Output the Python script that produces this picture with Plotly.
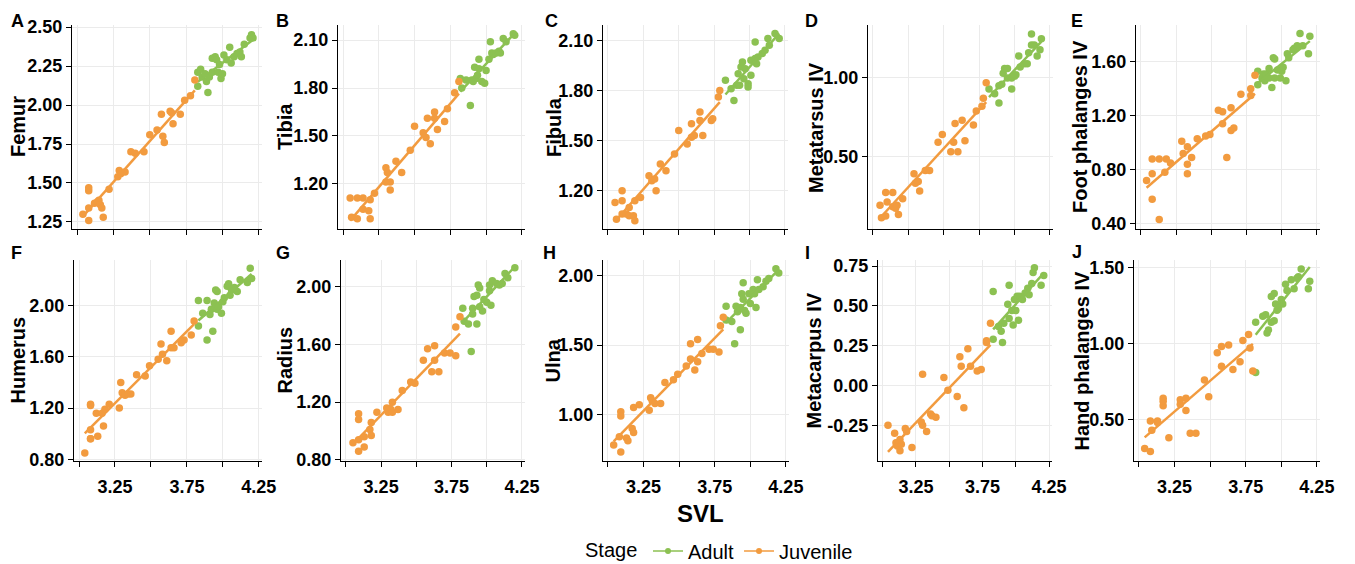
import numpy as np
import plotly.graph_objects as go

W, H = 1355, 564

panel_letters = ["A", "B", "C", "D", "E", "F", "G", "H", "I", "J"]
panel_titles = ["Femur", "Tibia", "Fibula", "Metatarsus IV", "Foot phalanges IV",
                "Humerus", "Radius", "Ulna", "Metacarpus IV", "Hand phalanges IV"]
stages = ["Adult", "Juvenile"]
svl_tickvals = [3.0, 3.25, 3.5, 3.75, 4.0, 4.25]
svl_ticktext = ["", "3.25", "", "3.75", "", "4.25"]

yticks_A = [1.25, 1.50, 1.75, 2.00, 2.25, 2.50]
yticks_B = [1.20, 1.50, 1.80, 2.10]
yticks_C = [1.20, 1.50, 1.80, 2.10]
yticks_D = [0.50, 1.00]
yticks_E = [0.40, 0.80, 1.20, 1.60]
yticks_F = [0.80, 1.20, 1.60, 2.00]
yticks_G = [0.80, 1.20, 1.60, 2.00]
yticks_H = [1.00, 1.50, 2.00]
yticks_I = [-0.25, 0.00, 0.25, 0.50, 0.75]
yticks_J = [0.50, 1.00, 1.50]

A_juv_x = [3.04, 3.08, 3.08, 3.08, 3.08, 3.12, 3.14, 3.15, 3.16, 3.17, 3.18, 3.22, 3.28, 3.29, 3.30, 3.33, 3.37, 3.40, 3.46, 3.50, 3.55, 3.59, 3.60, 3.58, 3.64, 3.65, 3.66, 3.71, 3.74, 3.78, 3.81]
A_juv_y = [1.30, 1.26, 1.34, 1.45, 1.47, 1.37, 1.38, 1.39, 1.36, 1.34, 1.28, 1.46, 1.54, 1.58, 1.56, 1.57, 1.70, 1.69, 1.70, 1.81, 1.84, 1.80, 1.76, 1.94, 1.96, 1.95, 1.88, 1.94, 2.03, 2.06, 2.16]
A_adu_x = [3.83, 3.83, 3.85, 3.86, 3.88, 3.89, 3.90, 3.91, 3.93, 3.93, 3.95, 3.96, 3.97, 3.98, 3.99, 4.00, 4.01, 4.03, 4.05, 4.06, 4.08, 4.10, 4.12, 4.13, 4.15, 4.19, 4.20, 4.21]
A_adu_y = [2.21, 2.12, 2.23, 2.18, 2.20, 2.15, 2.08, 2.18, 2.30, 2.21, 2.31, 2.29, 2.21, 2.26, 2.17, 2.20, 2.32, 2.29, 2.37, 2.27, 2.31, 2.33, 2.34, 2.31, 2.39, 2.43, 2.45, 2.43]

B_juv_x = [3.05, 3.10, 3.14, 3.19, 3.22, 3.06, 3.10, 3.14, 3.18, 3.19, 3.30, 3.31, 3.33, 3.33, 3.30, 3.37, 3.41, 3.47, 3.50, 3.56, 3.58, 3.61, 3.59, 3.64, 3.64, 3.66, 3.71, 3.73, 3.78, 3.81]
B_juv_y = [1.11, 1.11, 1.11, 1.10, 1.14, 0.99, 0.98, 1.04, 1.03, 0.98, 1.30, 1.27, 1.21, 1.16, 1.21, 1.34, 1.27, 1.41, 1.56, 1.52, 1.49, 1.45, 1.61, 1.65, 1.61, 1.54, 1.59, 1.67, 1.77, 1.84]
B_adu_x = [3.82, 3.83, 3.86, 3.89, 3.90, 3.91, 3.92, 3.93, 3.94, 3.95, 3.95, 3.97, 3.99, 4.00, 4.02, 4.03, 4.04, 4.05, 4.07, 4.09, 4.10, 4.12, 4.14, 4.19, 4.20]
B_adu_y = [1.86, 1.80, 1.85, 1.69, 1.85, 1.84, 1.93, 1.86, 1.88, 1.92, 1.98, 1.84, 1.83, 1.91, 1.98, 2.09, 2.02, 2.01, 2.02, 2.03, 2.02, 2.11, 2.09, 2.14, 2.13]

C_juv_x = [3.05, 3.10, 3.10, 3.06, 3.10, 3.13, 3.15, 3.18, 3.19, 3.15, 3.19, 3.23, 3.29, 3.31, 3.33, 3.34, 3.37, 3.41, 3.47, 3.50, 3.56, 3.59, 3.61, 3.59, 3.65, 3.67, 3.65, 3.73, 3.74, 3.78, 3.79]
C_juv_y = [1.13, 1.14, 1.20, 1.03, 1.06, 1.06, 1.05, 1.05, 1.02, 1.10, 1.14, 1.16, 1.29, 1.26, 1.27, 1.20, 1.36, 1.32, 1.42, 1.56, 1.48, 1.52, 1.53, 1.60, 1.67, 1.53, 1.62, 1.62, 1.63, 1.76, 1.80]
C_adu_x = [3.83, 3.87, 3.89, 3.91, 3.92, 3.93, 3.94, 3.95, 3.96, 3.97, 3.99, 3.99, 4.01, 4.01, 4.04, 4.04, 4.05, 4.06, 4.09, 4.11, 4.13, 4.14, 4.18, 4.21]
C_adu_y = [1.86, 1.81, 1.74, 1.83, 1.90, 1.83, 1.94, 1.97, 1.87, 1.93, 1.84, 1.82, 1.89, 1.98, 1.99, 2.09, 1.96, 2.00, 2.02, 2.04, 2.11, 2.07, 2.14, 2.11]

D_juv_x = [3.05, 3.09, 3.14, 3.10, 3.06, 3.09, 3.14, 3.16, 3.18, 3.17, 3.21, 3.29, 3.30, 3.32, 3.33, 3.37, 3.40, 3.46, 3.49, 3.55, 3.57, 3.58, 3.60, 3.63, 3.65, 3.71, 3.73, 3.77, 3.78, 3.80]
D_juv_y = [0.19, 0.27, 0.27, 0.21, 0.11, 0.12, 0.18, 0.17, 0.13, 0.19, 0.23, 0.39, 0.33, 0.34, 0.28, 0.41, 0.41, 0.59, 0.64, 0.53, 0.59, 0.71, 0.53, 0.73, 0.60, 0.70, 0.79, 0.82, 0.87, 0.97]
D_adu_x = [3.82, 3.86, 3.89, 3.89, 3.91, 3.92, 3.93, 3.95, 3.95, 3.98, 3.98, 4.00, 4.01, 4.03, 4.04, 4.07, 4.09, 4.10, 4.12, 4.12, 4.14, 4.16, 4.18, 4.19]
D_adu_y = [0.93, 0.90, 0.84, 0.95, 0.96, 1.03, 1.06, 1.06, 1.00, 0.93, 1.00, 1.01, 1.02, 1.14, 1.07, 1.09, 1.09, 1.16, 1.21, 1.28, 1.21, 1.14, 1.18, 1.25]

E_juv_x = [3.04, 3.08, 3.08, 3.08, 3.13, 3.13, 3.18, 3.17, 3.21, 3.29, 3.30, 3.33, 3.33, 3.33, 3.36, 3.40, 3.46, 3.49, 3.55, 3.58, 3.58, 3.61, 3.64, 3.64, 3.66, 3.71, 3.78, 3.78, 3.81]
E_juv_y = [0.72, 0.88, 0.77, 0.58, 0.88, 0.43, 0.88, 0.78, 0.85, 1.01, 0.92, 0.97, 0.84, 0.77, 0.89, 1.03, 1.05, 1.06, 1.24, 1.23, 1.14, 0.89, 1.09, 1.26, 1.11, 1.36, 1.40, 1.35, 1.50]
E_adu_x = [3.83, 3.83, 3.86, 3.87, 3.88, 3.89, 3.91, 3.91, 3.93, 3.94, 3.95, 3.95, 3.97, 3.99, 4.00, 4.01, 4.03, 4.04, 4.05, 4.08, 4.09, 4.11, 4.13, 4.15, 4.19, 4.20]
E_adu_y = [1.43, 1.53, 1.48, 1.51, 1.46, 1.51, 1.55, 1.48, 1.41, 1.63, 1.62, 1.48, 1.54, 1.48, 1.53, 1.56, 1.46, 1.66, 1.63, 1.69, 1.70, 1.72, 1.81, 1.72, 1.66, 1.79]

F_juv_x = [3.04, 3.08, 3.08, 3.08, 3.08, 3.08, 3.12, 3.13, 3.16, 3.17, 3.18, 3.21, 3.28, 3.29, 3.30, 3.32, 3.34, 3.36, 3.40, 3.46, 3.49, 3.55, 3.58, 3.61, 3.57, 3.64, 3.64, 3.66, 3.71, 3.73, 3.78, 3.80]
F_juv_y = [0.85, 0.96, 0.96, 1.23, 1.22, 1.03, 1.16, 0.98, 1.16, 1.06, 1.19, 1.23, 1.20, 1.40, 1.32, 1.30, 1.31, 1.31, 1.46, 1.45, 1.53, 1.58, 1.62, 1.57, 1.70, 1.80, 1.67, 1.67, 1.71, 1.73, 1.77, 1.88]
F_adu_x = [3.83, 3.83, 3.86, 3.89, 3.89, 3.91, 3.92, 3.93, 3.94, 3.95, 3.96, 3.96, 3.97, 3.99, 4.00, 4.01, 4.03, 4.04, 4.05, 4.06, 4.08, 4.10, 4.12, 4.17, 4.19, 4.20]
F_adu_y = [2.04, 1.84, 1.94, 1.73, 2.04, 1.93, 1.97, 1.80, 2.02, 2.12, 1.97, 2.11, 1.99, 1.94, 2.03, 2.06, 2.15, 2.17, 2.08, 2.12, 2.14, 2.11, 2.20, 2.18, 2.29, 2.21]

G_juv_x = [3.05, 3.09, 3.09, 3.09, 3.09, 3.13, 3.13, 3.17, 3.18, 3.18, 3.22, 3.29, 3.30, 3.32, 3.33, 3.33, 3.37, 3.40, 3.46, 3.49, 3.55, 3.58, 3.61, 3.63, 3.63, 3.66, 3.70, 3.74, 3.78, 3.78, 3.81]
G_juv_y = [0.92, 0.86, 1.12, 1.08, 0.94, 0.89, 0.96, 1.01, 1.06, 0.97, 1.13, 1.16, 1.13, 1.15, 1.13, 1.20, 1.15, 1.28, 1.34, 1.33, 1.49, 1.57, 1.41, 1.59, 1.49, 1.41, 1.54, 1.54, 1.52, 1.72, 1.79]
G_adu_x = [3.83, 3.84, 3.87, 3.89, 3.90, 3.90, 3.91, 3.93, 3.93, 3.94, 3.95, 3.95, 3.97, 3.98, 4.00, 4.02, 4.02, 4.03, 4.04, 4.07, 4.09, 4.11, 4.13, 4.15, 4.20]
G_adu_y = [1.85, 1.76, 1.74, 1.55, 1.85, 1.81, 1.93, 1.74, 1.94, 2.01, 1.99, 1.86, 1.83, 1.91, 1.89, 1.97, 2.01, 1.87, 2.04, 2.02, 2.01, 2.02, 2.09, 2.06, 2.13]

H_juv_x = [3.04, 3.09, 3.09, 3.09, 3.08, 3.13, 3.14, 3.17, 3.18, 3.18, 3.22, 3.29, 3.30, 3.31, 3.33, 3.37, 3.40, 3.46, 3.49, 3.55, 3.58, 3.58, 3.61, 3.63, 3.63, 3.66, 3.71, 3.74, 3.78, 3.79, 3.81]
H_juv_y = [0.78, 0.73, 1.02, 0.99, 0.84, 0.83, 0.81, 0.90, 0.87, 1.05, 1.07, 1.03, 1.12, 1.10, 1.08, 1.08, 1.23, 1.25, 1.29, 1.35, 1.51, 1.40, 1.32, 1.54, 1.38, 1.44, 1.47, 1.47, 1.45, 1.64, 1.70]
H_adu_x = [3.83, 3.83, 3.87, 3.89, 3.90, 3.91, 3.93, 3.93, 3.94, 3.95, 3.95, 3.96, 3.97, 3.99, 4.00, 4.02, 4.03, 4.04, 4.05, 4.06, 4.09, 4.11, 4.13, 4.18, 4.20]
H_adu_y = [1.68, 1.78, 1.67, 1.51, 1.78, 1.74, 1.61, 1.77, 1.87, 1.83, 1.95, 1.75, 1.73, 1.87, 1.80, 1.90, 1.87, 1.77, 1.97, 1.90, 1.92, 1.96, 1.98, 2.05, 2.02]

I_juv_x = [3.04, 3.09, 3.10, 3.11, 3.13, 3.14, 3.13, 3.17, 3.18, 3.22, 3.30, 3.29, 3.30, 3.33, 3.36, 3.37, 3.40, 3.46, 3.49, 3.56, 3.58, 3.59, 3.61, 3.64, 3.66, 3.71, 3.74, 3.78, 3.78, 3.81]
I_juv_y = [-0.25, -0.30, -0.36, -0.38, -0.41, -0.37, -0.34, -0.27, -0.29, -0.39, 0.07, -0.23, -0.25, -0.29, -0.18, -0.19, -0.20, 0.05, -0.03, -0.07, 0.18, 0.12, -0.14, 0.23, 0.12, 0.09, 0.10, 0.28, 0.27, 0.39]
I_adu_x = [3.83, 3.83, 3.87, 3.89, 3.90, 3.91, 3.94, 3.95, 3.95, 3.97, 3.98, 3.99, 4.00, 4.01, 4.02, 4.03, 4.04, 4.05, 4.07, 4.09, 4.10, 4.12, 4.13, 4.14, 4.19, 4.21]
I_adu_y = [0.59, 0.29, 0.37, 0.34, 0.27, 0.39, 0.51, 0.63, 0.42, 0.47, 0.38, 0.54, 0.47, 0.56, 0.41, 0.56, 0.55, 0.54, 0.58, 0.61, 0.57, 0.64, 0.71, 0.74, 0.63, 0.69]

J_juv_x = [3.04, 3.08, 3.08, 3.09, 3.13, 3.13, 3.17, 3.17, 3.17, 3.21, 3.29, 3.29, 3.33, 3.33, 3.36, 3.40, 3.46, 3.49, 3.55, 3.58, 3.58, 3.63, 3.66, 3.71, 3.73, 3.77, 3.78, 3.80]
J_juv_y = [0.31, 0.29, 0.49, 0.43, 0.49, 0.48, 0.59, 0.64, 0.62, 0.38, 0.63, 0.60, 0.56, 0.64, 0.41, 0.41, 0.76, 0.65, 0.94, 0.98, 0.85, 0.99, 0.83, 0.88, 1.02, 1.06, 0.97, 0.82]
J_adu_x = [3.82, 3.82, 3.87, 3.89, 3.90, 3.91, 3.93, 3.93, 3.95, 3.95, 3.96, 3.97, 3.98, 4.00, 4.01, 4.03, 4.04, 4.07, 4.09, 4.11, 4.12, 4.14, 4.19, 4.20]
J_adu_y = [0.81, 1.14, 1.18, 1.19, 1.07, 1.09, 1.31, 1.14, 1.33, 1.15, 1.26, 1.22, 1.23, 1.29, 1.26, 1.39, 1.35, 1.42, 1.36, 1.43, 1.44, 1.49, 1.36, 1.41]

# ---------------- assembly ----------------
juv_x = [A_juv_x, B_juv_x, C_juv_x, D_juv_x, E_juv_x, F_juv_x, G_juv_x, H_juv_x, I_juv_x, J_juv_x]
juv_y = [A_juv_y, B_juv_y, C_juv_y, D_juv_y, E_juv_y, F_juv_y, G_juv_y, H_juv_y, I_juv_y, J_juv_y]
adu_x = [A_adu_x, B_adu_x, C_adu_x, D_adu_x, E_adu_x, F_adu_x, G_adu_x, H_adu_x, I_adu_x, J_adu_x]
adu_y = [A_adu_y, B_adu_y, C_adu_y, D_adu_y, E_adu_y, F_adu_y, G_adu_y, H_adu_y, I_adu_y, J_adu_y]
yticks = [yticks_A, yticks_B, yticks_C, yticks_D, yticks_E, yticks_F, yticks_G, yticks_H, yticks_I, yticks_J]
yranges = [[1.205, 2.513], [0.916, 2.195], [0.971, 2.191], [0.038, 1.337], [0.36, 1.873],
           [0.787, 2.355], [0.793, 2.183], [0.665, 2.113], [-0.475, 0.788], [0.227, 1.55]]

GREEN = "#8cc152"
ORANGE = "#f29b3f"
FONT = "Liberation Sans"

# pixel layout
xdom_px = [[72, 262], [338, 525], [603, 788], [868, 1053], [1136, 1320],
           [74, 262], [341, 525], [603, 789], [878, 1052], [1134, 1320]]
ydom_px = [[25, 229], [260, 461]]
title_x_px = [18, 285, 554, 816, 1080, 17, 284, 552, 813, 1081]
letter_px = [(17, 21), (282, 21), (551, 21), (811, 21), (1077, 21),
             (16, 253), (283, 253), (549, 253), (807, 253), (1077, 252)]

fig = go.Figure()
layout = {}
annotations = []

for i in range(10):
    row = i // 5
    ax = "" if i == 0 else str(i + 1)
    xa, ya = "x" + ax, "y" + ax
    for sx, sy, col, name in [(adu_x[i], adu_y[i], GREEN, "Adult"),
                              (juv_x[i], juv_y[i], ORANGE, "Juvenile")]:
        sx_a = np.array(sx)
        sy_a = np.array(sy)
        slope, icpt = np.polyfit(sx_a, sy_a, 1)
        lx = np.array([sx_a.min(), sx_a.max()])
        fig.add_trace(go.Scatter(x=sx, y=sy, mode="markers", xaxis=xa, yaxis=ya,
                                 marker=dict(color=col, size=7.5), showlegend=False,
                                 hoverinfo="skip"))
        fig.add_trace(go.Scatter(x=lx, y=slope * lx + icpt, mode="lines", xaxis=xa, yaxis=ya,
                                 line=dict(color=col, width=2.5), showlegend=False,
                                 hoverinfo="skip"))
    x0, x1 = xdom_px[i]
    y0, y1 = ydom_px[row]
    layout["xaxis" + ax] = dict(
        domain=[x0 / W, x1 / W], anchor=ya, range=[2.965, 4.272],
        tickvals=svl_tickvals,
        ticktext=svl_ticktext if row == 1 else [""] * len(svl_tickvals),
        ticks="outside", ticklen=5, tickwidth=1.2, tickcolor="black",
        ticklabelstandoff=4,
        showline=True, linecolor="black", linewidth=1.3,
        showgrid=True, gridcolor="#ebebeb", gridwidth=1, zeroline=False,
        tickfont=dict(family=FONT, size=18, color="black", weight="bold"),
    )
    layout["yaxis" + ax] = dict(
        domain=[1 - y1 / H, 1 - y0 / H], anchor=xa, range=yranges[i],
        tickvals=yticks[i], ticktext=["%.2f" % v for v in yticks[i]],
        ticks="outside", ticklen=5, tickwidth=1.2, tickcolor="black",
        showline=True, linecolor="black", linewidth=1.3,
        showgrid=True, gridcolor="#ebebeb", gridwidth=1, zeroline=False,
        tickfont=dict(family=FONT, size=18, color="black", weight="bold"),
    )
    annotations.append(dict(
        text=panel_titles[i], textangle=-90, xref="paper", yref="paper",
        x=title_x_px[i] / W, y=1 - (y0 + y1) / 2 / H, xanchor="center", yanchor="middle",
        showarrow=False, font=dict(family=FONT, size=20, color="black", weight="bold")))
    lx_, ly_ = letter_px[i]
    annotations.append(dict(
        text=panel_letters[i], xref="paper", yref="paper",
        x=lx_ / W, y=1 - ly_ / H, xanchor="center", yanchor="middle",
        showarrow=False, font=dict(family=FONT, size=18, color="black", weight="bold")))

annotations.append(dict(
    text="SVL", xref="paper", yref="paper", x=700 / W, y=1 - 513 / H,
    xanchor="center", yanchor="middle", showarrow=False,
    font=dict(family=FONT, size=24, color="black", weight="bold")))
annotations.append(dict(
    text="Stage", xref="paper", yref="paper", x=583 / W, y=1 - 550 / H,
    xanchor="left", yanchor="middle", showarrow=False,
    font=dict(family=FONT, size=20, color="black")))

# legend entries
for name, col in zip(stages, [GREEN, ORANGE]):
    fig.add_trace(go.Scatter(x=[None], y=[None], mode="lines+markers", name=name,
                             line=dict(color=col, width=1.5), marker=dict(color=col, size=6),
                             showlegend=True))

fig.update_layout(
    width=W, height=H, margin=dict(l=0, r=0, t=0, b=0, autoexpand=False),
    paper_bgcolor="white", plot_bgcolor="white",
    annotations=annotations,
    legend=dict(orientation="h", x=648 / W, xanchor="left", y=1 - 551 / H, yanchor="middle",
                font=dict(family=FONT, size=20, color="black"),
                itemwidth=30,
                bgcolor="rgba(0,0,0,0)", traceorder="normal"),
    **layout,
)

fig.write_html("out.html")
